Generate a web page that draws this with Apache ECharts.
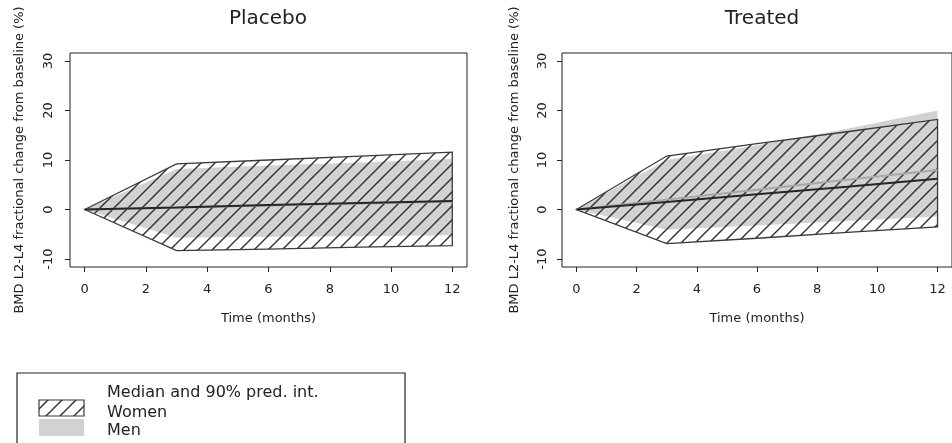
<!DOCTYPE html>
<html>
<head>
<meta charset="utf-8">
<script src="https://cdn.jsdelivr.net/npm/echarts@6/dist/echarts.min.js"></script>
<style>
  html, body { margin: 0; padding: 0; background: #fff; }
  #chart { width: 952px; height: 443px; }
</style>
</head>
<body>
<div id="chart"></div>
<script>
// time points (months) and tick labels
var times = [0, 3, 6, 9, 12];
var xTicks = [0, 2, 4, 6, 8, 10, 12];
var yTicks = [-10, 0, 10, 20, 30];

// Placebo panel, % change from baseline
var placeboWomenLow = [0, -8.3, -8.0, -7.6, -7.3];
var placeboWomenHigh = [0, 9.2, 10.0, 10.8, 11.6];
var placeboWomenMed = [0, 0.4, 0.9, 1.3, 1.7];
var placeboMenLow = [0, -5.7, -5.5, -5.4, -5.2];
var placeboMenHigh = [0, 8.2, 8.9, 9.5, 10.2];
var placeboMenMed = [0, 0.4, 0.8, 1.2, 1.6];

// Treated panel
var treatedWomenLow = [0, -6.9, -5.8, -4.6, -3.5];
var treatedWomenHigh = [0, 10.8, 13.3, 15.7, 18.2];
var treatedWomenMed = [0, 1.5, 3.1, 4.6, 6.2];
var treatedMenLow = [0, -4.1, -3.2, -2.3, -1.4];
var treatedMenHigh = [0, 10.0, 13.0, 16.3, 20.0];
var treatedMenMed = [0, 2.0, 4.0, 6.0, 8.0];

var FONT = 'DejaVu Sans';
var INK = '#222';
var GREY = '#d2d2d2';

// diagonal hatch tile "/"
function makeHatch() {
  var c = document.createElement('canvas');
  c.width = 14; c.height = 14;
  var g = c.getContext('2d');
  g.strokeStyle = '#2e2e2e';
  g.lineWidth = 1.4;
  g.beginPath();
  g.moveTo(-2, 16); g.lineTo(16, -2);
  g.moveTo(-2, 2); g.lineTo(2, -2);
  g.moveTo(12, 16); g.lineTo(16, 12);
  g.stroke();
  return c;
}
var hatch = { image: makeHatch(), repeat: 'repeat' };

var chart = echarts.init(document.getElementById('chart'));

function bandData(lo, hi) {
  var d = [];
  for (var i = 0; i < times.length; i++) d.push([times[i], lo[i], hi[i]]);
  return d;
}

// polygon from upper edge then lower edge reversed, through the axis scales
function bandSeries(gi, lo, hi, style) {
  return {
    type: 'custom',
    xAxisIndex: gi, yAxisIndex: gi,
    data: bandData(lo, hi),
    encode: { x: 0, y: [1, 2] },
    silent: true,
    renderItem: function (params, api) {
      if (params.dataIndex !== 0) return null;
      var pts = [];
      for (var i = 0; i < times.length; i++) pts.push(api.coord([times[i], hi[i]]));
      for (var j = times.length - 1; j >= 0; j--) pts.push(api.coord([times[j], lo[j]]));
      return { type: 'polygon', shape: { points: pts }, style: style };
    }
  };
}

function lineSeries(gi, vals, color, width) {
  var d = [];
  for (var i = 0; i < times.length; i++) d.push([times[i], vals[i]]);
  return {
    type: 'line', xAxisIndex: gi, yAxisIndex: gi,
    data: d, symbol: 'none', silent: true,
    lineStyle: { color: color, width: width }
  };
}

function xAx(gi) {
  return {
    gridIndex: gi, type: 'value', min: -0.48, max: 12.48,
    name: 'Time (months)', nameLocation: 'middle', nameGap: 45,
    nameTextStyle: { fontFamily: FONT, fontSize: 13, color: INK },
    axisLine: { show: false, onZero: false },
    splitLine: { show: false },
    axisTick: { show: true, length: 5, customValues: xTicks, lineStyle: { color: INK } },
    axisLabel: { customValues: xTicks, margin: 16, fontFamily: FONT, fontSize: 13, color: INK }
  };
}

function yAx(gi, nameGap, labelMargin) {
  return {
    gridIndex: gi, type: 'value', min: -11.6, max: 31.6,
    name: 'BMD L2-L4 fractional change from baseline (%)',
    nameLocation: 'middle', nameGap: nameGap,
    nameTextStyle: { fontFamily: FONT, fontSize: 13, color: INK },
    axisLine: { show: false, onZero: false },
    splitLine: { show: false },
    axisTick: { show: true, length: 5, customValues: yTicks, lineStyle: { color: INK } },
    axisLabel: { customValues: yTicks, rotate: 90, margin: labelMargin, fontFamily: FONT, fontSize: 13, color: INK }
  };
}

var gridBox = { show: true, borderColor: INK, borderWidth: 1, backgroundColor: 'transparent' };

var option = {
  animation: false,
  grid: [
    Object.assign({ left: 70, top: 53, right: 485, bottom: 176 }, gridBox),
    Object.assign({ left: 562, top: 53, right: -7, bottom: 176 }, gridBox)
  ],
  xAxis: [xAx(0), xAx(1)],
  yAxis: [yAx(0, 44, 15), yAx(1, 41, 13)],
  series: [
    bandSeries(0, placeboMenLow, placeboMenHigh, { fill: GREY }),
    lineSeries(0, placeboMenMed, '#a8a8a8', 2),
    bandSeries(0, placeboWomenLow, placeboWomenHigh, { fill: hatch, stroke: '#3a3a3a', lineWidth: 1.3 }),
    lineSeries(0, placeboWomenMed, '#262626', 2),

    bandSeries(1, treatedMenLow, treatedMenHigh, { fill: GREY }),
    lineSeries(1, treatedMenMed, '#a8a8a8', 2),
    bandSeries(1, treatedWomenLow, treatedWomenHigh, { fill: hatch, stroke: '#3a3a3a', lineWidth: 1.3 }),
    lineSeries(1, treatedWomenMed, '#262626', 2)
  ],
  graphic: [
    { type: 'text', x: 268, y: 19, style: { text: 'Placebo', fontFamily: FONT, fontSize: 20, fill: INK, align: 'center', verticalAlign: 'middle' } },
    { type: 'text', x: 762, y: 19, style: { text: 'Treated', fontFamily: FONT, fontSize: 20, fill: INK, align: 'center', verticalAlign: 'middle' } },
    // legend
    { type: 'rect', shape: { x: 17, y: 373, width: 388, height: 90 }, style: { fill: 'none', stroke: INK, lineWidth: 1.2 } },
    { type: 'rect', shape: { x: 39, y: 400, width: 45, height: 16 }, style: { fill: hatch, stroke: '#3a3a3a', lineWidth: 1.2 } },
    { type: 'rect', shape: { x: 39, y: 419, width: 45, height: 17 }, style: { fill: GREY } },
    { type: 'text', x: 107, y: 393, style: { text: 'Median and 90% pred. int.', fontFamily: FONT, fontSize: 16, fill: INK, verticalAlign: 'middle' } },
    { type: 'text', x: 107, y: 413, style: { text: 'Women', fontFamily: FONT, fontSize: 16, fill: INK, verticalAlign: 'middle' } },
    { type: 'text', x: 107, y: 431, style: { text: 'Men', fontFamily: FONT, fontSize: 16, fill: INK, verticalAlign: 'middle' } }
  ]
};

chart.setOption(option);
window.addEventListener('resize', function () { chart.resize(); });
</script>
</body>
</html>
